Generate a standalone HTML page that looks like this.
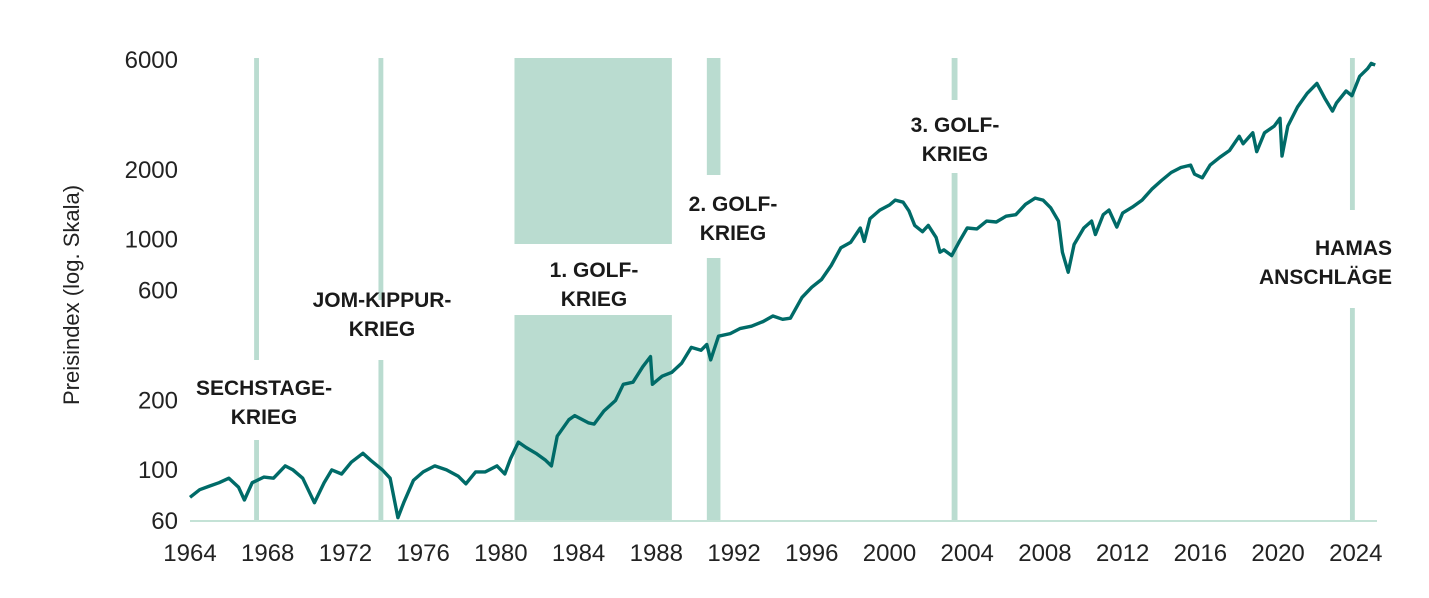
<!DOCTYPE html>
<html><head><meta charset="utf-8"><style>
body{margin:0;background:#fff}
svg{display:block;font-family:"Liberation Sans",sans-serif}
</style></head><body>
<svg id="chart" width="1429" height="598" viewBox="0 0 1429 598">
<g id="bands"></g>
<line x1="190" y1="521" x2="1377" y2="521" stroke="#c4e2d6" stroke-width="2"/>
<g id="yticks"></g>
<g id="xticks"></g>
<text transform="translate(79,295) rotate(-90)" text-anchor="middle" font-size="22" fill="#222">Preisindex (log. Skala)</text>
<path id="line" fill="none" stroke="#006b68" stroke-width="3.4" stroke-linejoin="round"/>
<g id="labels" font-size="21" font-weight="bold" fill="#1a1a1a" text-anchor="middle"></g>
</svg>
<script>
const years=[1964.0,1964.5,1965.0,1965.5,1966.0,1966.5,1966.8,1967.2,1967.8,1968.3,1968.9,1969.3,1969.8,1970.4,1970.9,1971.3,1971.8,1972.3,1972.9,1973.3,1973.9,1974.3,1974.7,1975.0,1975.5,1976.0,1976.6,1977.2,1977.8,1978.2,1978.7,1979.2,1979.8,1980.2,1980.5,1980.9,1981.3,1981.8,1982.3,1982.6,1982.9,1983.5,1983.8,1984.5,1984.8,1985.3,1985.9,1986.3,1986.8,1987.3,1987.7,1987.8,1988.3,1988.8,1989.3,1989.8,1990.3,1990.6,1990.8,1991.2,1991.8,1992.3,1992.9,1993.5,1994.0,1994.5,1994.9,1995.5,1996.0,1996.5,1997.0,1997.5,1998.0,1998.5,1998.7,1999.0,1999.5,2000.0,2000.3,2000.7,2001.0,2001.3,2001.7,2002.0,2002.4,2002.6,2002.8,2003.2,2003.6,2004.0,2004.5,2005.0,2005.5,2006.0,2006.5,2007.0,2007.5,2007.9,2008.3,2008.7,2008.9,2009.2,2009.5,2010.0,2010.4,2010.6,2011.0,2011.3,2011.7,2012.0,2012.5,2013.0,2013.5,2014.0,2014.5,2015.0,2015.5,2015.7,2016.1,2016.5,2017.0,2017.5,2018.0,2018.2,2018.7,2018.9,2019.3,2019.8,2020.1,2020.2,2020.5,2021.0,2021.5,2022.0,2022.4,2022.8,2023.0,2023.5,2023.8,2024.2,2024.6,2024.8,2025.0];
const values=[76,82,85,88,92,84,74,88,93,92,104,100,92,72,88,100,96,108,118,110,100,92,62,72,90,98,104,100,94,87,98,98,104,96,112,132,125,118,110,104,140,165,172,160,158,180,200,235,240,280,310,235,255,265,290,340,330,350,300,380,390,410,420,440,465,450,455,560,620,670,770,920,970,1120,980,1230,1340,1410,1480,1450,1330,1150,1080,1150,1020,880,900,850,980,1120,1110,1200,1190,1260,1280,1420,1510,1480,1370,1200,880,720,950,1120,1200,1050,1280,1340,1130,1300,1380,1480,1650,1800,1950,2050,2100,1920,1850,2100,2270,2430,2800,2600,2900,2400,2900,3100,3350,2300,3100,3750,4300,4750,4100,3600,3900,4400,4200,5100,5500,5800,5700];
const yTickVals=[60,100,200,600,1000,2000,6000];
const xTickYears=[1964,1968,1972,1976,1980,1984,1988,1992,1996,2000,2004,2008,2012,2016,2020,2024];
const bandStart=[1967.3,1973.7,1980.7,1990.6,2003.2,2023.7];
const bandEnd=[1967.55,1973.95,1988.8,1991.3,2003.5,2023.95];
const bandGapTop=[360,300,244,175,100,210];
const bandGapBot=[440,360,315,258,173,308];
const labelLines=[["SECHSTAGE-","KRIEG"],["JOM-KIPPUR-","KRIEG"],["1. GOLF-","KRIEG"],["2. GOLF-","KRIEG"],["3. GOLF-","KRIEG"],["HAMAS","ANSCHLÄGE"]];
const labelX=[264,382,594,733,955,1322];
const labelY=[395,307,277,211,132,255];

const x=y=>190+(y-1964)*19.43;
const yv=v=>521-Math.log10(v/60)*230.5;
const NS="http://www.w3.org/2000/svg";
function mk(tag,attrs,parent){const e=document.createElementNS(NS,tag);for(const k in attrs)e.setAttribute(k,attrs[k]);parent.appendChild(e);return e;}

const bands=document.getElementById('bands');
bandStart.forEach((s,i)=>{
  const x0=x(s),w=x(bandEnd[i])-x0;
  const r1=mk('rect',{x:x0,y:58,width:w,height:bandGapTop[i]-58,fill:'#badcd0'},bands);
  
  
  const r2=mk('rect',{x:x0,y:bandGapBot[i],width:w,height:520-bandGapBot[i],fill:'#badcd0'},bands);
  
  
});

const yt=document.getElementById('yticks');
yTickVals.forEach(v=>{
  const t=mk('text',{x:178,y:yv(v)+8,'text-anchor':'end','font-size':24,fill:'#222'},yt);
  t.textContent=v;
  
  
});
const xt=document.getElementById('xticks');
xTickYears.forEach(v=>{
  const t=mk('text',{x:x(v),y:561,'text-anchor':'middle','font-size':24,fill:'#222'},xt);
  t.textContent=v;
  
  
});

document.getElementById('line').setAttribute('d',years.map((yr,i)=>(i?'L':'M')+x(yr).toFixed(1)+','+yv(values[i]).toFixed(1)).join(''));

const lg=document.getElementById('labels');
labelLines.forEach((ls,i)=>{
  ls.forEach((s,j)=>{
    const t=mk('text',{x:i===5?1392:labelX[i],y:labelY[i]+j*29},lg);
    if(i===5)t.setAttribute('text-anchor','end');
    t.textContent=s;
    
    
  });
});
</script>
</body></html>
